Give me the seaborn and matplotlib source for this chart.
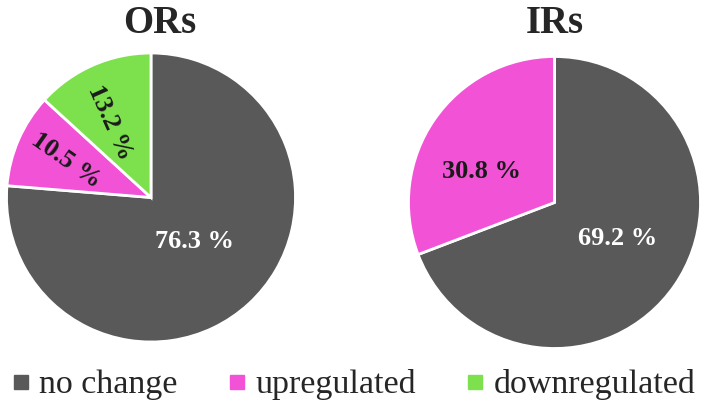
import numpy as np
import matplotlib
matplotlib.use("Agg")
import matplotlib.pyplot as plt
from matplotlib.lines import Line2D
import seaborn as sns

# ---- data ----
categories = ["no change", "upregulated", "downregulated"]
ors_values = [76.3, 10.5, 13.2]
irs_values = [69.2, 30.8]
titles = ["ORs", "IRs"]

sns.set_theme(style="white")
plt.rcParams['font.family'] = ['Liberation Serif', 'DejaVu Serif']

palette = sns.color_palette(["#595959", "#F152D6", "#7DE14D"])
label_colors = ["white", "#1a1a1a", "#1a1a1a"]

fig = plt.figure(figsize=(7.08, 4.12), dpi=100)
W, H = 708, 412

def make_axes(cx, cy, r):
    return fig.add_axes([(cx - r) / W, (H - cy - r) / H, 2 * r / W, 2 * r / H])

specs = [
    dict(vals=ors_values, center=(151, 197.5), r=144.5, title_x=159.5,
         dist=[0.43, 0.64, 0.59], dang=[2, 0, 5], rot=[0, -35, -66]),
    dict(vals=irs_values, center=(554.5, 202.5), r=146, title_x=555,
         dist=[0.5, 0.54], dang=[4.6, 11.6], rot=[0, 0]),
]

for spec, title in zip(specs, titles):
    ax = make_axes(spec["center"][0], spec["center"][1], spec["r"])
    n = len(spec["vals"])
    wedges, texts, autotexts = ax.pie(
        spec["vals"], colors=palette[:n], startangle=90, counterclock=False,
        autopct=lambda p: f"{p:.1f} %", pctdistance=0.5,
        wedgeprops=dict(edgecolor="white", linewidth=2),
    )
    for i, (w, t) in enumerate(zip(wedges, autotexts)):
        mid = np.deg2rad((w.theta1 + w.theta2) / 2 + spec["dang"][i])
        rr = spec["dist"][i]
        t.set_position((rr * np.cos(mid), rr * np.sin(mid)))
        t.set_color(label_colors[i])
        t.set_fontsize(19)
        t.set_fontweight("bold")
        t.set_rotation(spec["rot"][i])
        t.set_rotation_mode("anchor")
        t.set_ha("center")
        t.set_va("center")
    ax.set_xlim(-1, 1)
    ax.set_ylim(-1, 1)
    ax.set_aspect("equal")
    ax.axis("off")
    fig.text(spec["title_x"] / W, 1 - 33 / H, title, ha="center", va="baseline",
             fontsize=28, fontweight="bold")

handles = [Line2D([0], [0], marker="s", linestyle="none", markersize=10,
                  markerfacecolor=palette[i], markeredgecolor=palette[i])
           for i in range(3)]
fig.legend(handles, categories, loc="center", bbox_to_anchor=(0.5, 1 - 385 / H),
           ncol=3, frameon=False, fontsize=24.5, handletextpad=0.28,
           columnspacing=1.5, handlelength=0.5, borderpad=0, borderaxespad=0)

fig.savefig("out.png", dpi=100)
